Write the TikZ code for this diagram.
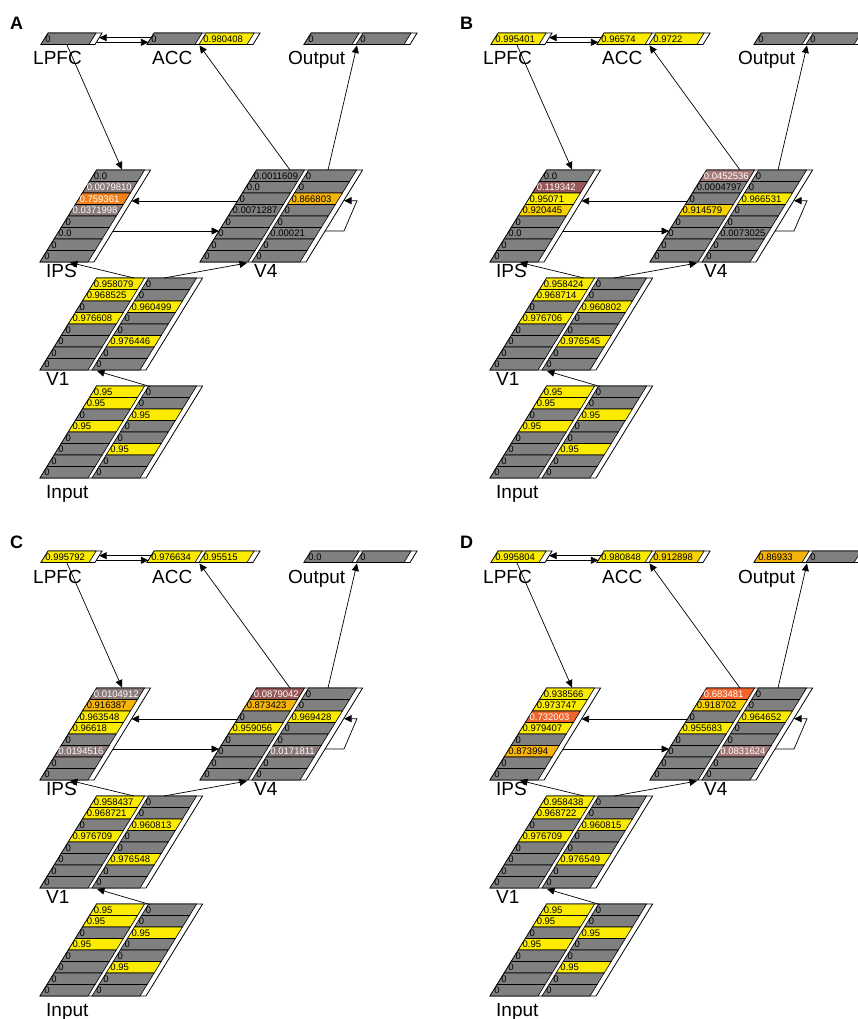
\documentclass[tikz,border=0pt]{standalone}
\usepackage{fontspec}
\setmainfont{Liberation Sans}
\usetikzlibrary{arrows.meta}

\definecolor{unitgray}{RGB}{128,128,128}
\definecolor{actpale}{RGB}{138,122,122}
\definecolor{actrose}{RGB}{165,122,122}
\definecolor{actrust}{RGB}{152,88,88}
\definecolor{actred}{RGB}{240,100,45}
\definecolor{actorange}{RGB}{240,130,30}
\definecolor{actamber}{RGB}{245,180,10}
\definecolor{actgold}{RGB}{248,210,0}
\definecolor{actyellow}{RGB}{250,235,0}

% layer geometry (pixels)
\newcommand{\grpw}{48}
\newcommand{\grpgap}{4}
\newcommand{\grpend}{6}
\newcommand{\rowh}{11.5}
\newcommand{\slant}{0.615}

\tikzset{
  frame/.style={draw=black, fill=white, line width=0.8pt},
  cellbar/.style={draw=black, line width=0.6pt},
  celltext/.style={anchor=west, inner sep=0pt, font=\fontsize{9.5}{9.5}\selectfont},
  layer name/.style={anchor=base west, inner sep=0pt, font=\fontsize{19}{20}\selectfont},
  panel letter/.style={anchor=base west, inner sep=0pt, font=\fontsize{18}{18}\selectfont\bfseries},
  conn/.style={draw=black, line width=0.7pt, -{Triangle[length=7.5pt,width=7pt]}},
  k0/.style={fill=unitgray, text=black},
  kp/.style={fill=actpale, text=white},
  kr/.style={fill=actrose, text=white},
  kb/.style={fill=actrust, text=white},
  kR/.style={fill=actred, text=white},
  kO/.style={fill=actorange, text=white},
  kA/.style={fill=actamber, text=black},
  kG/.style={fill=actgold, text=black},
  kY/.style={fill=actyellow, text=black},
}

% #1 name, #2 x, #3 y (bottom left), #4 rows, #5 groups, #6 style/text per unit
\newcommand{\layer}[6]{%
  \pgfmathsetmacro{\lw}{#5*\grpw+(#5-1)*\grpgap+\grpend}
  \pgfmathsetmacro{\lh}{#4*\rowh}
  \draw[frame] (#2,#3) -- ++(\lw,0) -- ++({\slant*\lh},-\lh) -- ++(-\lw,0) -- cycle;
  \foreach \st/\tx [count=\i from 0] in {#6}{
    \pgfmathtruncatemacro{\ri}{int(\i/#5)}
    \pgfmathtruncatemacro{\gi}{mod(\i,#5)}
    \pgfmathsetmacro{\yb}{#3-(#4-\ri-1)*\rowh}
    \pgfmathsetmacro{\xl}{#2+\gi*(\grpw+\grpgap)+\slant*(#4-\ri-1)*\rowh}
    \draw[cellbar,\st] (\xl,\yb) -- ++(\grpw,0) -- ++({\slant*\rowh},-\rowh) -- ++(-\grpw,0) -- cycle;
    \node[celltext,\st,fill=none] (#1-\i) at ({\xl+\slant*\rowh/2+0.6},{\yb-\rowh/2}) {\tx};
  }
}

% #1 letter, #2 LPFC, #3 ACC, #4 Output, #5 IPS, #6 V4, #7 V1
\newcommand{\netpanel}[7]{%
  \node[panel letter] (tag) at (10,30) {#1};
  \layer{lpfc}{41}{44.5}{1}{1}{#2}
  \layer{acc}{147}{44.5}{1}{2}{#3}
  \layer{out}{304}{44.5}{1}{2}{#4}
  \layer{ips}{40}{262}{8}{1}{#5}
  \layer{v4}{200}{262}{8}{2}{#6}
  \layer{v1}{40}{370}{8}{2}{#7}
  \layer{input}{40}{478}{8}{2}{kY/0.95,k0/0, kY/0.95,k0/0, k0/0,kY/0.95, kY/0.95,k0/0,
    k0/0,k0/0, k0/0,kY/0.95, k0/0,k0/0, k0/0,k0/0}
  \node[layer name] (lpfc-lab) at (33,65) {LPFC};
  \node[layer name] (acc-lab) at (152,65) {ACC};
  \node[layer name] (out-lab) at (288,65) {Output};
  \node[layer name] (ips-lab) at (46,277.5) {IPS};
  \node[layer name] (v4-lab) at (254,277.5) {V4};
  \node[layer name] (v1-lab) at (46,385.5) {V1};
  \node[layer name] (input-lab) at (46,498) {Input};
  % ports
  \coordinate (lpfc-dn) at (67,45);
  \coordinate (lpfc-e1) at (99.2,37.7);
  \coordinate (lpfc-e2) at (96.4,42.3);
  \coordinate (acc-w1) at (151.2,37.7);
  \coordinate (acc-w2) at (148.4,42.3);
  \coordinate (acc-in) at (199.5,45.5);
  \coordinate (out-in) at (357,45.5);
  \coordinate (ips-up) at (122,169.5);
  \coordinate (ips-e1) at (131.5,201);
  \coordinate (ips-e2) at (113,231);
  \coordinate (ips-dn) at (70,262.5);
  \coordinate (v4-up1) at (290,170);
  \coordinate (v4-up2) at (328,170);
  \coordinate (v4-w1) at (237.5,201);
  \coordinate (v4-w2) at (219,231);
  \coordinate (v4-e1) at (325,231);
  \coordinate (v4-e2) at (344,200.7);
  \coordinate (v4-dn) at (247,263);
  \coordinate (v1-up1) at (134,278);
  \coordinate (v1-up2) at (164,278);
  \coordinate (v1-dn) at (97,371);
  \coordinate (input-up) at (150,386.5);
  % connections
  \draw[conn] (lpfc-dn) -- (ips-up);
  \draw[conn] (acc-w1) -- (lpfc-e1);
  \draw[conn] (lpfc-e2) -- (acc-w2);
  \draw[conn] (v4-up1) -- (acc-in);
  \draw[conn] (v4-up2) -- (out-in);
  \draw[conn] (v4-w1) -- (ips-e1);
  \draw[conn] (ips-e2) -- (v4-w2);
  \draw[conn] (v4-e1) -- ++(19,0) -- ++(13,-30.3) -- (v4-e2);
  \draw[conn] (v1-up1) -- (ips-dn);
  \draw[conn] (v1-up2) -- (v4-dn);
  \draw[conn] (input-up) -- (v1-dn);
}

\begin{document}
\begin{tikzpicture}[x=1pt,y=-1pt]
  \useasboundingbox (0,0) rectangle (858,1019);
  \clip (0,0) rectangle (858,1019);

  \begin{scope}[name prefix=A-]
    \netpanel{A}{k0/0}{k0/0,kY/0.980408}{k0/0,k0/0}
      {k0/0.0,kp/0.0079810,kO/0.759361,kp/0.0371998,k0/0,k0/0.0,k0/0,k0/0}
      {k0/0.0011609,k0/0, k0/0.0,k0/0, k0/0,kA/0.866803, k0/0.0071287,k0/0,
       k0/0,k0/0, k0/0,k0/0.00021, k0/0,k0/0, k0/0,k0/0}
      {kY/0.958079,k0/0, kY/0.968525,k0/0, k0/0,kY/0.960499, kY/0.976608,k0/0,
       k0/0,k0/0, k0/0,kY/0.976446, k0/0,k0/0, k0/0,k0/0}
  \end{scope}

  \begin{scope}[shift={(450,0)}, name prefix=B-]
    \netpanel{B}{kY/0.995401}{kY/0.96574,kY/0.9722}{k0/0,k0/0}
      {k0/0.0,kb/0.119342,kY/0.95071,kG/0.920445,k0/0,k0/0.0,k0/0,k0/0}
      {kr/0.0452536,k0/0, k0/0.0004797,k0/0, k0/0,kY/0.966531, kG/0.914579,k0/0,
       k0/0,k0/0, k0/0,k0/0.0073025, k0/0,k0/0, k0/0,k0/0}
      {kY/0.958424,k0/0, kY/0.968714,k0/0, k0/0,kY/0.960802, kY/0.976706,k0/0,
       k0/0,k0/0, k0/0,kY/0.976545, k0/0,k0/0, k0/0,k0/0}
  \end{scope}

  \begin{scope}[shift={(0,518)}, name prefix=C-]
    \netpanel{C}{kY/0.995792}{kY/0.976634,kY/0.95515}{k0/0.0,k0/0}
      {kp/0.0104912,kA/0.916387,kY/0.963548,kY/0.96618,k0/0,kp/0.0194516,k0/0,k0/0}
      {kb/0.0879042,k0/0, kA/0.873423,k0/0, k0/0,kY/0.969428, kY/0.959056,k0/0,
       k0/0,k0/0, k0/0,kp/0.0171811, k0/0,k0/0, k0/0,k0/0}
      {kY/0.958437,k0/0, kY/0.968721,k0/0, k0/0,kY/0.960813, kY/0.976709,k0/0,
       k0/0,k0/0, k0/0,kY/0.976548, k0/0,k0/0, k0/0,k0/0}
  \end{scope}

  \begin{scope}[shift={(450,518)}, name prefix=D-]
    \netpanel{D}{kY/0.995804}{kY/0.980848,kG/0.912898}{kA/0.86933,k0/0}
      {kY/0.938566,kY/0.973747,kR/0.732003,kY/0.979407,k0/0,kA/0.873994,k0/0,k0/0}
      {kR/0.683481,k0/0, kG/0.918702,k0/0, k0/0,kY/0.964652, kY/0.955683,k0/0,
       k0/0,k0/0, k0/0,kr/0.0831624, k0/0,k0/0, k0/0,k0/0}
      {kY/0.958438,k0/0, kY/0.968722,k0/0, k0/0,kY/0.960815, kY/0.976709,k0/0,
       k0/0,k0/0, k0/0,kY/0.976549, k0/0,k0/0, k0/0,k0/0}
  \end{scope}
\end{tikzpicture}
\end{document}
